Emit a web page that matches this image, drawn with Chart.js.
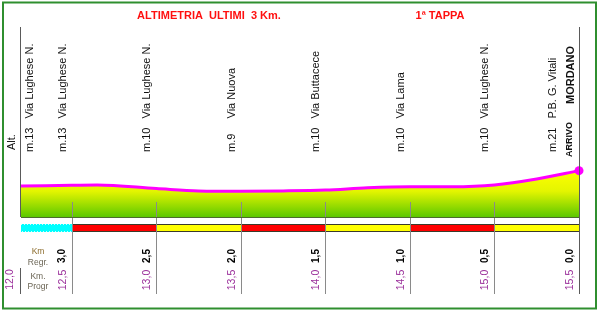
<!DOCTYPE html>
<html><head><meta charset="utf-8">
<script src="https://cdn.jsdelivr.net/npm/chart.js@4"></script>
<style>html,body{margin:0;padding:0;background:#fff;}</style>
</head><body>
<canvas id="c" width="600" height="313"></canvas>
<script>
// ---- data ----
const profileKm  = [12.2, 12.5, 12.65, 13.0, 13.25, 13.5, 13.75, 14.0, 14.25, 14.5, 14.75, 15.0, 15.25, 15.5];
const profileAlt = [11.7, 12.1, 12.3, 10.3, 8.9, 8.7, 8.9, 9.4, 10.7, 11.3, 11.3, 12.3, 15.7, 20.5];
const pointKm     = [12.306, 12.5, 13.0, 13.5, 14.0, 14.5, 15.0, 15.4];
const pointAlt    = ['m.13', 'm.13', 'm.10', 'm.9', 'm.10', 'm.10', 'm.10', 'm.21'];
const pointStreet = ['Via Lughese N.', 'Via Lughese N.', 'Via Lughese N.', 'Via Nuova', 'Via Buttacece', 'Via Lama', 'Via Lughese N.', 'P.B. G. Vitali'];
const tickKm      = [12.5, 13.0, 13.5, 14.0, 14.5, 15.0, 15.5];
const regrLabels  = ['3,0', '2,5', '2,0', '1,5', '1,0', '0,5', '0,0'];
const progrLabels = ['12,5', '13,0', '13,5', '14,0', '14,5', '15,0', '15,5'];
const stripKm     = [12.2, 12.5, 13.0, 13.5, 14.0, 14.5, 15.0, 15.5];
const startProgr  = '12,0';
const finishKm    = 15.5;
const finishTown  = 'MORDANO';
const finishLabel = 'ARRIVO';
const titleText   = 'ALTIMETRIA  ULTIMI  3 Km.';
const stageText   = '1ª TAPPA';

// ---- styles ----
const FONT = '"Liberation Sans", Arial, Helvetica, sans-serif';
const stripColors = ['#00ffff', '#ff0000', '#ffff00', '#ff0000', '#ffff00', '#ff0000', '#ffff00'];

function vtext(ctx, str, x, y, align) {
  ctx.save();
  ctx.translate(x, y);
  ctx.rotate(-Math.PI / 2);
  ctx.textAlign = align;
  ctx.textBaseline = 'middle';
  ctx.fillText(str, 0, 0);
  ctx.restore();
}

const decor = {
  id: 'decor',
  afterDatasetsDraw(chart) {
    const ctx = chart.ctx;
    const xs = chart.scales.x;
    const ca = chart.chartArea;
    const X = v => xs.getPixelForValue(v);
    ctx.save();

    // strip
    const sTop = 224, sH = 8;
    for (let i = 0; i < stripKm.length - 1; i++) {
      const x1 = Math.round(X(stripKm[i])), x2 = Math.round(X(stripKm[i + 1]));
      ctx.fillStyle = stripColors[i];
      ctx.fillRect(x1, sTop, x2 - x1, sH);
      if (i === 0) {
        ctx.fillStyle = '#c8ffff';
        for (let x = x1; x < x2; x += 3) { ctx.fillRect(x, sTop, 1, 1); ctx.fillRect(x + 1, sTop + sH - 1, 1, 1); }
      } else {
        ctx.strokeStyle = '#3a3a2a';
        ctx.lineWidth = 1;
        ctx.strokeRect(x1 + 0.5, sTop + 0.5, x2 - x1, sH - 1);
      }
    }

    // grid lines
    ctx.strokeStyle = '#8a8a8a';
    ctx.lineWidth = 1;
    tickKm.forEach(k => {
      const x = Math.round(X(k)) + 0.5;
      ctx.beginPath(); ctx.moveTo(x, 202); ctx.lineTo(x, 294); ctx.stroke();
    });

    // fill baseline
    ctx.strokeStyle = '#4d6b2e';
    ctx.beginPath(); ctx.moveTo(ca.left, ca.bottom + 0.5); ctx.lineTo(ca.right, ca.bottom + 0.5); ctx.stroke();

    // axis lines
    ctx.strokeStyle = '#5a5a5a';
    const lx = Math.round(ca.left) - 0.5, rx = Math.round(X(finishKm)) + 0.5;
    ctx.beginPath();
    ctx.moveTo(lx, ca.top); ctx.lineTo(lx, ca.bottom);
    ctx.moveTo(lx, 268); ctx.lineTo(lx, 294);
    ctx.moveTo(rx, ca.top); ctx.lineTo(rx, 294);
    ctx.stroke();

    // titles
    ctx.fillStyle = '#ff1010';
    ctx.font = 'bold 11px ' + FONT;
    ctx.textAlign = 'center';
    ctx.textBaseline = 'middle';
    ctx.fillText(titleText, 209, 16);
    ctx.fillText(stageText, 440, 16);

    // vertical labels at top
    ctx.fillStyle = '#111';
    ctx.font = '11px ' + FONT;
    vtext(ctx, 'Alt.', 12, 150, 'left');
    pointKm.forEach((k, i) => {
      const x = X(k) - 9;
      vtext(ctx, pointAlt[i], x, 152, 'left');
      vtext(ctx, pointStreet[i], x, 118.5, 'left');
    });
    const fx = X(finishKm) - 8;
    ctx.font = 'bold 11px ' + FONT;
    vtext(ctx, finishTown, fx, 104, 'left');
    ctx.font = 'bold 9px ' + FONT;
    vtext(ctx, finishLabel, fx - 1, 157, 'left');

    // bottom captions
    ctx.font = '8.5px ' + FONT;
    ctx.textAlign = 'center';
    ctx.textBaseline = 'middle';
    ctx.fillStyle = '#8b6b2b';
    ctx.fillText('Km', 38, 252);
    ctx.fillStyle = '#6b6555';
    ctx.fillText('Regr.', 38, 262.5);
    ctx.fillText('Km.', 38, 277);
    ctx.fillText('Progr', 38, 286.5);

    // km labels
    tickKm.forEach((k, i) => {
      const x = X(k) - 9;
      ctx.fillStyle = '#000';
      ctx.font = 'bold 10px ' + FONT;
      vtext(ctx, regrLabels[i], x, 256, 'center');
      ctx.fillStyle = '#9b309b';
      ctx.font = '10.5px ' + FONT;
      vtext(ctx, progrLabels[i], x, 280, 'center');
    });
    ctx.fillStyle = '#9b309b';
    ctx.font = '10.5px ' + FONT;
    vtext(ctx, startProgr, 10.5, 279.5, 'center');

    // frame
    ctx.strokeStyle = '#2f8f2f';
    ctx.lineWidth = 2;
    ctx.strokeRect(3, 2.5, 593, 306);
    ctx.restore();
  }
};

const ctx = document.getElementById('c').getContext('2d');
new Chart(ctx, {
  type: 'line',
  data: {
    datasets: [{
      data: profileKm.map((x, i) => ({ x: x, y: profileAlt[i] })),
      borderColor: '#ff00ff',
      borderWidth: 3,
      cubicInterpolationMode: 'monotone',
      fill: 'start',
      backgroundColor: (c) => {
        const ch = c.chart;
        const ca = ch.chartArea;
        if (!ca) return '#ccee00';
        const g = ch.ctx.createLinearGradient(0, 170, 0, ca.bottom);
        g.addColorStop(0, '#ffff00');
        g.addColorStop(0.45, '#e4f500');
        g.addColorStop(1, '#5cc800');
        return g;
      },
      pointRadius: (c) => c.dataIndex === profileKm.length - 1 ? 4.5 : 0,
      pointHoverRadius: 0,
      pointBackgroundColor: '#ff00ff',
      pointBorderColor: '#ff00ff',
      pointBorderWidth: 0,
      clip: false
    }]
  },
  options: {
    responsive: false,
    animation: false,
    devicePixelRatio: 1,
    events: [],
    layout: { padding: { left: 21, right: 21, top: 27, bottom: 96 } },
    plugins: { legend: { display: false }, tooltip: { enabled: false }, title: { display: false } },
    scales: {
      x: { type: 'linear', min: 12.2, max: 15.5, display: false },
      y: { type: 'linear', min: -6, max: 102.6, display: false }
    }
  },
  plugins: [decor]
});
</script>
</body></html>
